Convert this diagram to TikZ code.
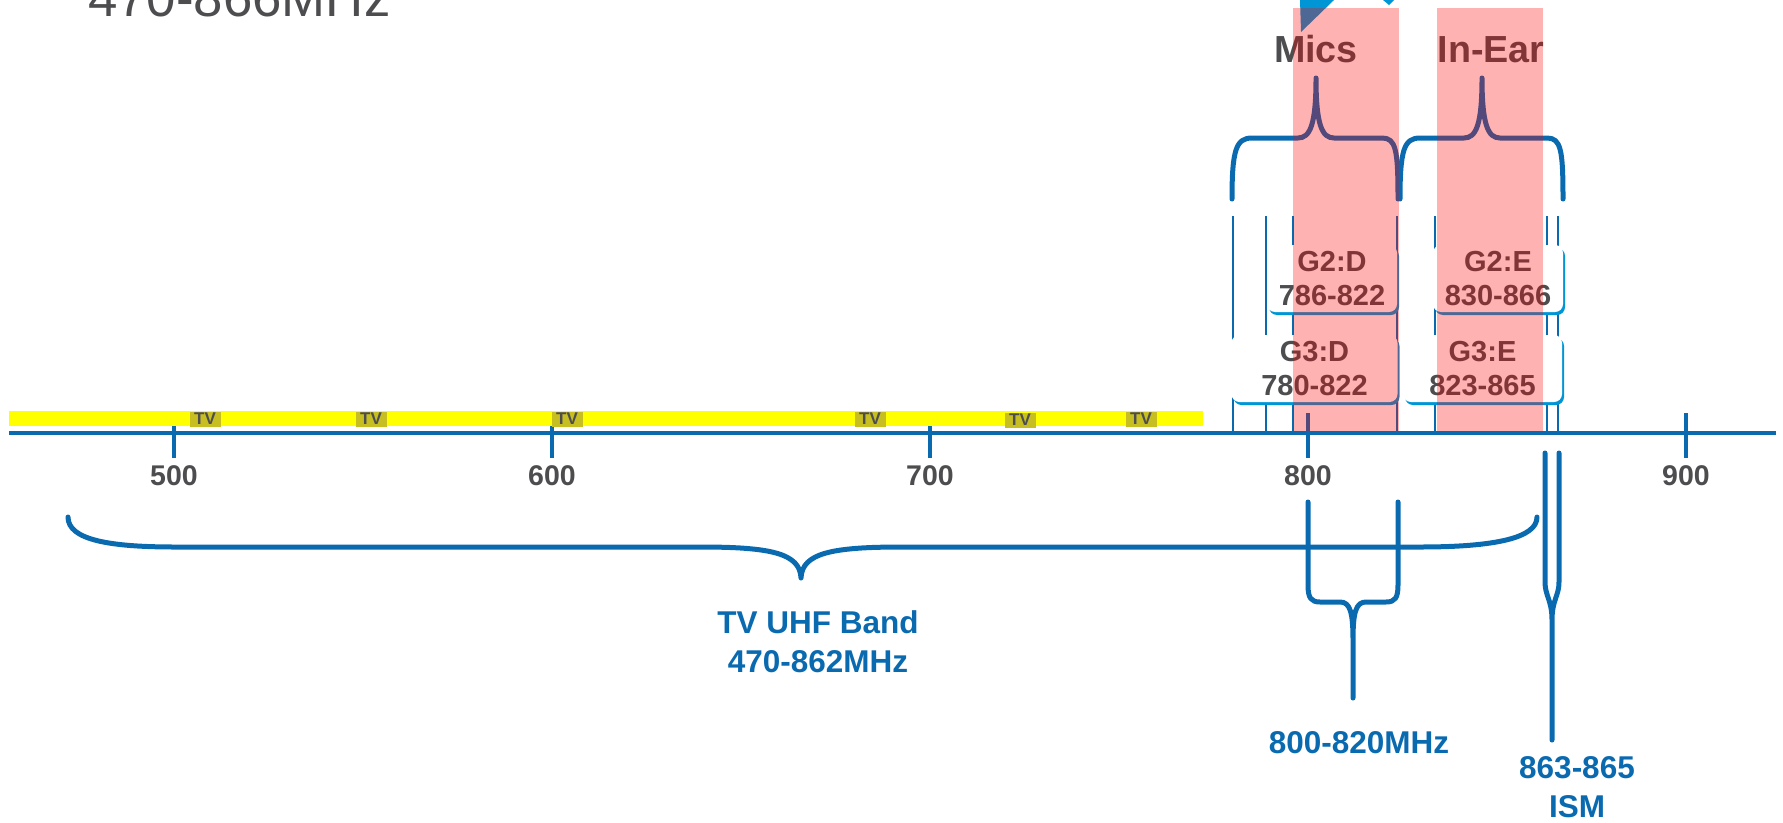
\documentclass[tikz,border=0pt]{standalone}
\usepackage{fontspec}
\setmainfont{Liberation Sans}
\definecolor{BandBlue}{RGB}{10, 106, 176}
\definecolor{ShadowCyan}{RGB}{0, 150, 214}
\definecolor{LabelGray}{RGB}{77, 77, 80}
\definecolor{TVOlive}{RGB}{199, 190, 33}
\definecolor{BandYellow}{RGB}{255, 255, 0}
\usepackage{tikz}
\usetikzlibrary{arrows.meta, positioning, shadows}

\begin{document}
\begin{tikzpicture}[
      x=1pt, y=-1pt,
      freqbox/.style={rectangle, fill=white, rounded corners=8pt, align=center, text=LabelGray, inner sep=0pt,
        minimum height=67pt, font=\fontsize{29}{34}\selectfont\bfseries,
        drop shadow={shadow xshift=2pt, shadow yshift=-3pt, fill=ShadowCyan, opacity=1}},
      brace/.style={draw=BandBlue, line width=5pt, line cap=round, line join=round},
      ticklabel/.style={font=\fontsize{28.5}{30}\selectfont\bfseries, text=LabelGray},
      bandlabel/.style={font=\fontsize{31.5}{39}\selectfont\bfseries, text=BandBlue, align=center},
      grouplabel/.style={font=\fontsize{37.7}{40}\selectfont\bfseries, text=LabelGray},
      tvbox/.style={rectangle, fill=TVOlive, minimum width=31pt, minimum height=15pt, inner sep=0pt,
        text=LabelGray, font=\fontsize{17}{17}\selectfont\bfseries},
    ]
    \useasboundingbox (0,0) rectangle (1783,822);
    \clip (0,0) rectangle (1783,822);

    % Title, cut off at the top edge
    \node[anchor=base west, inner sep=0pt, font=\fontsize{52.8}{56}\selectfont, text=LabelGray] (title) at (88,16) {470-866MHz};

    % Frequency axis with ticks
    \draw[BandBlue, line width=4pt] (9,433) -- (1776,433);
    \foreach \f/\tx in {500/174, 600/552, 700/930, 800/1308, 900/1686} {
      \draw[BandBlue, line width=3.5pt] (\tx,413) -- (\tx,458);
      \node[ticklabel] (tick\f) at (\tx,476) {\f};
    }

    % TV channels band
    \fill[BandYellow] (9,411) rectangle (1203,426);
    \foreach \tx/\ty [count=\i] in {205/419, 371/419, 567/419, 870/419, 1020/420, 1141/419}
      \node[tvbox] (tv\i) at (\tx,\ty) {TV};

    % Band edges
    \foreach \lx in {1233, 1266, 1293, 1397, 1435, 1547, 1558}
      \draw[BandBlue, line width=2pt] (\lx,216) -- (\lx,433);

    % Sennheiser ranges
    \node[freqbox, minimum width=130pt] (g2d) at (1332,278.5) {G2:D\\786-822};
    \node[freqbox, minimum width=130pt] (g2e) at (1498,278.5) {G2:E\\830-866};
    \node[freqbox, minimum width=166pt] (g3d) at (1314.5,368.5) {G3:D\\780-822};
    \node[freqbox, minimum width=159pt] (g3e) at (1482.5,368.5) {G3:E\\823-865};

    % Braces above: Mics and In-Ear
    \draw[brace] (1232,199) .. controls (1232,150) and (1236,138) .. (1252,138) -- (1298,138)
      .. controls (1310,138) and (1316,125) .. (1316,78)
      .. controls (1316,125) and (1322,138) .. (1334,138) -- (1382,138)
      .. controls (1396,138) and (1398,150) .. (1398,199);
    \draw[brace] (1400,199) .. controls (1400,150) and (1404,138) .. (1420,138) -- (1464,138)
      .. controls (1476,138) and (1482,125) .. (1482,78)
      .. controls (1482,125) and (1488,138) .. (1500,138) -- (1547,138)
      .. controls (1561,138) and (1563,150) .. (1563,199);
    \node[grouplabel] (mics) at (1316,49.5) {Mics};
    \node[grouplabel] (inear) at (1491,49.5) {In-Ear};

    % Braces below: TV UHF band, 800-820MHz, ISM
    \draw[brace] (68,517) .. controls (68,540) and (110,547) .. (175,547) -- (700,547)
      .. controls (770,547) and (800,553) .. (801,578)
      .. controls (802,553) and (832,547) .. (902,547) -- (1420,547)
      .. controls (1495,547) and (1537,538) .. (1537,517);
    \node[bandlabel] (uhf) at (818,642) {TV UHF Band\\470-862MHz};

    \draw[brace] (1308,502) -- (1308,585) .. controls (1308,598) and (1311,602) .. (1320,602) -- (1340,602)
      .. controls (1350,602) and (1353,612) .. (1353,640) -- (1353,698)
      (1353,640) .. controls (1353,612) and (1356,602) .. (1366,602) -- (1386,602)
      .. controls (1395,602) and (1398,598) .. (1398,585) -- (1398,502);
    \node[bandlabel] (band820) at (1359,743) {800-820MHz};

    \draw[brace] (1545,453) -- (1545,582) .. controls (1545,596) and (1552,600) .. (1552,620) -- (1552,740)
      (1559,453) -- (1559,582) .. controls (1559,596) and (1552,600) .. (1552,620);
    \node[bandlabel] (ism) at (1577,787) {863-865\\ISM};

    % Pointer pieces at the top edge
    \fill[ShadowCyan] (1300,0) -- (1334,0) -- (1301,32) -- cycle;
    \fill[ShadowCyan] (1383,0) -- (1394,0) -- (1389,5) -- cycle;

    % Highlighted ranges
    \fill[red, opacity=0.3] (1293,8) rectangle (1399,431);
    \fill[red, opacity=0.3] (1437,8) rectangle (1543,431);
  \end{tikzpicture}
\end{document}
